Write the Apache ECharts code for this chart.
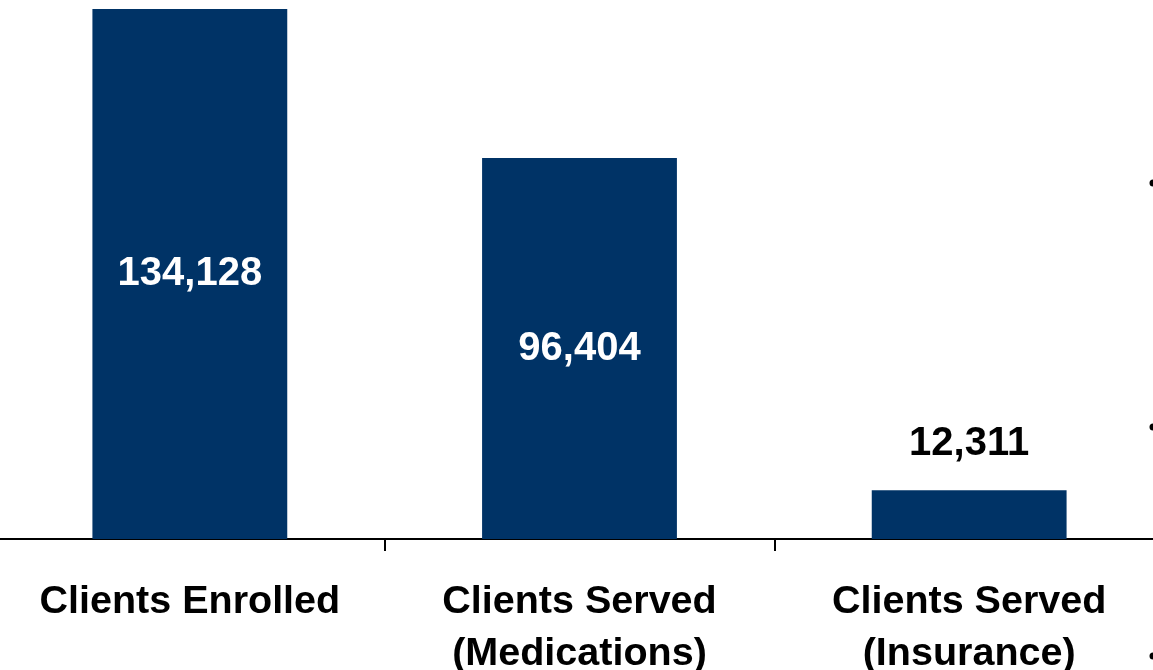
<!DOCTYPE html>
<html>
<head>
<meta charset="utf-8">
<style>
html,body{margin:0;padding:0;background:#fff;overflow:hidden;}
#chart{width:1153px;height:670px;}
</style>
<script src="https://cdn.jsdelivr.net/npm/echarts@6/dist/echarts.min.js"></script>
</head>
<body>
<div id="chart"></div>
<script>
const categories = ['Clients Enrolled', 'Clients Served\n(Medications)', 'Clients Served\n(Insurance)'];
const values = [134128, 96404, 12311];

const maxVal = Math.max.apply(null, values);
const chart = echarts.init(document.getElementById('chart'));
const fontFam = 'Liberation Sans, Arial, sans-serif';

const seriesData = values.map(function (v) {
  const inside = v > maxVal * 0.2;
  return {
    value: v,
    label: inside
      ? { position: 'inside', color: '#ffffff' }
      : { position: 'top', color: '#000000', distance: 26 }
  };
});

chart.setOption({
  animation: false,
  backgroundColor: '#ffffff',
  grid: { left: -5, right: -11, top: 9, bottom: 131, containLabel: false, outerBoundsMode: 'none' },
  xAxis: {
    type: 'category',
    data: categories,
    boundaryGap: true,
    axisLine: { show: true, lineStyle: { color: '#000000', width: 2 } },
    axisTick: { show: true, length: 12, lineStyle: { color: '#000000', width: 2 } },
    axisLabel: {
      interval: 0,
      margin: 37,
      color: '#000000',
      fontFamily: fontFam,
      fontWeight: 'bold',
      fontSize: 39.5,
      lineHeight: 52
    }
  },
  yAxis: {
    type: 'value',
    min: 0,
    max: maxVal,
    show: false,
    splitLine: { show: false }
  },
  series: [{
    type: 'bar',
    data: seriesData,
    barWidth: '50%',
    itemStyle: { color: '#003366' },
    label: {
      show: true,
      fontFamily: fontFam,
      fontWeight: 'bold',
      fontSize: 40,
      formatter: function (p) { return p.value.toLocaleString('en-US'); }
    }
  }],
  graphic: [
    { type: 'circle', shape: { cx: 1153, cy: 183, r: 3.5 }, style: { fill: '#000' } },
    { type: 'circle', shape: { cx: 1153, cy: 427, r: 3.5 }, style: { fill: '#000' } },
    { type: 'circle', shape: { cx: 1153, cy: 656, r: 3.5 }, style: { fill: '#000' } }
  ]
});
</script>
</body>
</html>
